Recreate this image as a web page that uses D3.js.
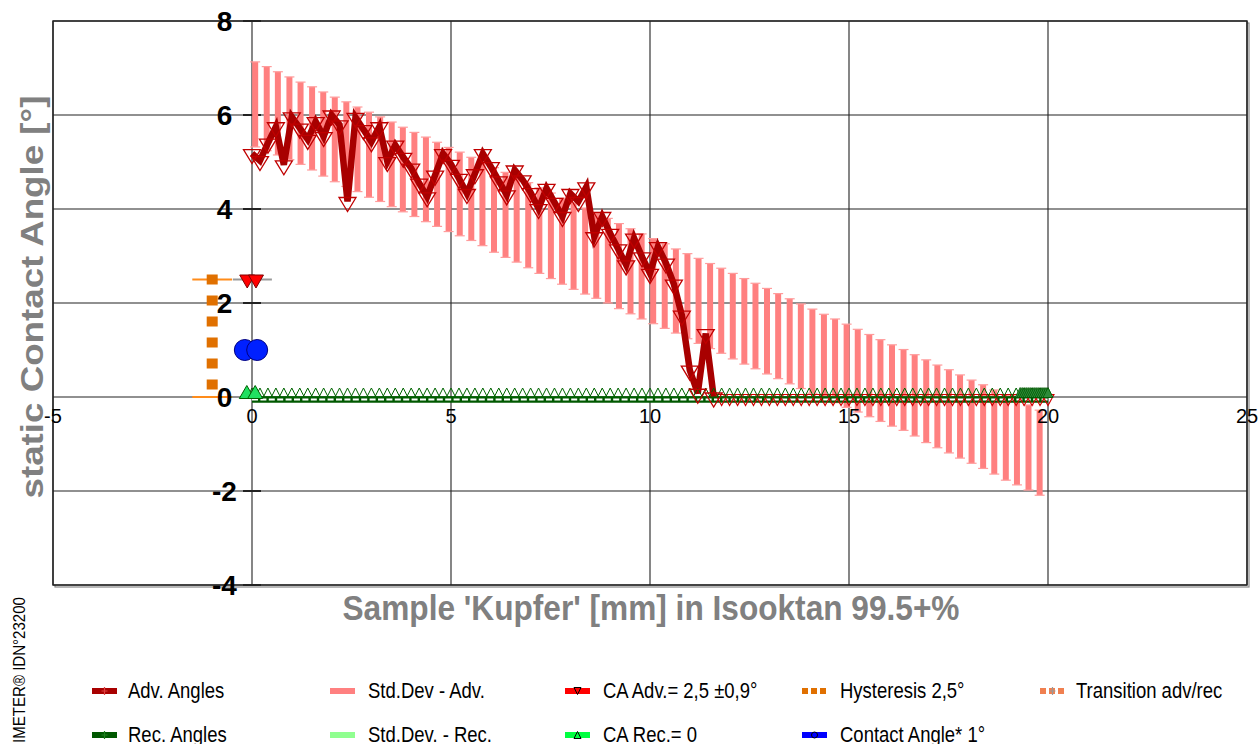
<!DOCTYPE html>
<html><head><meta charset="utf-8">
<script src="https://cdn.jsdelivr.net/npm/d3@7"></script>
<style>
body{margin:0;background:#fff;}
svg{display:block;font-family:Arial,"Liberation Sans",sans-serif;}
</style>
</head><body>
<svg id="c" width="1259" height="744"></svg>
<script>
// ---------- data ----------
const xTicks = [-5, 0, 5, 10, 15, 20, 25];
const yTicks = [-4, -2, 0, 2, 4, 6, 8];

const advX = [0,0.2,0.4,0.6,0.8,1.0,1.2,1.4,1.6,1.8,2.0,2.2,2.4,2.6,2.8,3.0,3.2,3.4,3.6,3.8,4.0,4.2,4.4,4.6,4.8,5.0,5.2,5.4,5.6,5.8,6.0,6.2,6.4,6.6,6.8,7.0,7.2,7.4,7.6,7.8,8.0,8.2,8.4,8.6,8.8,9.0,9.2,9.4,9.6,9.8,10.0,10.2,10.4,10.6,10.8,11.0,11.2,11.4,11.6];
const advY = [5.18,5.03,5.40,5.75,4.94,5.96,5.72,5.48,5.86,5.54,6.00,5.79,4.16,5.95,5.69,5.43,5.75,5.01,5.36,5.10,4.87,4.55,4.26,4.72,5.18,4.95,4.65,4.33,4.75,5.18,4.90,4.60,4.30,4.83,4.62,4.35,4.01,4.44,4.14,3.84,4.33,4.16,4.47,3.41,3.84,3.48,3.15,2.81,3.38,2.98,2.63,3.20,2.85,2.40,1.74,0.57,0.08,1.35,0.00];

const advZeroX = [11.8,12.0,12.2,12.4,12.6,12.8,13.0,13.2,13.4,13.6,13.8,14.0,14.2,14.4,14.6,14.8,15.0,15.2,15.4,15.6,15.8,16.0,16.2,16.4,16.6,16.8,17.0,17.2,17.4,17.6,17.8,18.0,18.2,18.4,18.6,18.8,19.0,19.2,19.4,19.6,19.8,20.0];
const advZeroY = [0,0,0,0,0,0,0,0,0,0,0,0,0,0,0,0,0,0,0,0,0,0,0,0,0,0,0,0,0,0,0,0,0,0,0,0,0,0,0,0,0,0];

const recX = [0,0.2,0.4,0.6,0.8,1.0,1.2,1.4,1.6,1.8,2.0,2.2,2.4,2.6,2.8,3.0,3.2,3.4,3.6,3.8,4.0,4.2,4.4,4.6,4.8,5.0,5.2,5.4,5.6,5.8,6.0,6.2,6.4,6.6,6.8,7.0,7.2,7.4,7.6,7.8,8.0,8.2,8.4,8.6,8.8,9.0,9.2,9.4,9.6,9.8,10.0,10.2,10.4,10.6,10.8,11.0,11.2,11.4,11.6,11.8,12.0,12.2,12.4,12.6,12.8,13.0,13.2,13.4,13.6,13.8,14.0,14.2,14.4,14.6,14.8,15.0,15.2,15.4,15.6,15.8,16.0,16.2,16.4,16.6,16.8,17.0,17.2,17.4,17.6,17.8,18.0,18.2,18.4,18.6,18.8,19.0,19.2,19.4,19.6,19.8,20.0];
const recY = [0,0,0,0,0,0,0,0,0,0,0,0,0,0,0,0,0,0,0,0,0,0,0,0,0,0,0,0,0,0,0,0,0,0,0,0,0,0,0,0,0,0,0,0,0,0,0,0,0,0,0,0,0,0,0,0,0,0,0,0,0,0,0,0,0,0,0,0,0,0,0,0,0,0,0,0,0,0,0,0,0,0,0,0,0,0,0,0,0,0,0,0,0,0,0,0,0,0,0,0,0];

const transX = [19.30,19.35,19.40,19.45,19.50,19.55,19.60,19.65,19.70,19.75,19.80,19.85,19.90,19.95,20.00];
const transY = [0,0,0,0,0,0,0,0,0,0,0,0,0,0,0];

const sdX = [0.08,0.37,0.65,0.94,1.22,1.51,1.79,2.08,2.37,2.65,2.94,3.22,3.51,3.79,4.08,4.37,4.65,4.94,5.22,5.51,5.79,6.08,6.37,6.65,6.94,7.22,7.51,7.79,8.08,8.37,8.65,8.94,9.22,9.51,9.79,10.08,10.37,10.65,10.94,11.22,11.51,11.79,12.08,12.37,12.65,12.94,13.22,13.51,13.79,14.08,14.37,14.65,14.94,15.22,15.51,15.79,16.08,16.37,16.65,16.94,17.22,17.51,17.79,18.08,18.37,18.65,18.94,19.22,19.51,19.79];
const sdHigh = [7.13,7.03,6.92,6.81,6.70,6.60,6.49,6.38,6.28,6.17,6.06,5.96,5.85,5.74,5.63,5.53,5.42,5.31,5.21,5.10,4.99,4.88,4.78,4.67,4.56,4.45,4.34,4.23,4.13,4.02,3.91,3.80,3.69,3.58,3.47,3.37,3.26,3.15,3.05,2.95,2.84,2.74,2.63,2.52,2.42,2.31,2.20,2.09,1.98,1.87,1.76,1.66,1.55,1.44,1.33,1.22,1.11,1.01,0.90,0.79,0.68,0.58,0.47,0.36,0.26,0.15,0.04,-0.06,-0.17,-0.28];
const sdLow = [5.32,5.24,5.15,5.05,4.95,4.83,4.70,4.58,4.48,4.37,4.25,4.16,4.05,3.94,3.84,3.73,3.63,3.52,3.43,3.33,3.22,3.08,2.97,2.87,2.75,2.63,2.52,2.40,2.29,2.19,2.10,2.00,1.88,1.77,1.66,1.56,1.46,1.36,1.24,1.14,1.03,0.93,0.81,0.70,0.60,0.49,0.39,0.28,0.18,0.08,-0.02,-0.12,-0.22,-0.32,-0.42,-0.52,-0.62,-0.71,-0.83,-0.97,-1.08,-1.19,-1.30,-1.41,-1.52,-1.64,-1.77,-1.87,-1.98,-2.09];

const caAdvX = [-0.12, 0.10];
const caAdvY = [2.5, 2.5];
const caAdvErr = [-0.48, 0.5];
const caRecX = [-0.13, 0.08];
const caRecY = [0, 0];
const caX = [-0.18, 0.13];
const caY = [1.0, 1.0];
const hystX = -1.0;
const hystRange = [0, 2.5];
const hystArm = [-1.5, -0.5];

const legendLabels = ["Adv. Angles","Std.Dev - Adv.","CA Adv.= 2,5 ±0,9°","Hysteresis 2,5°","Transition adv/rec",
                      "Rec. Angles","Std.Dev. - Rec.","CA Rec.= 0","Contact Angle* 1°"];
const legendColors = ["#a80000","#ff8080","#ff0000","#e07000","#f08050","#005800","#90ff90","#00ff40","#0000ff"];

const xTitle = "Sample 'Kupfer' [mm] in Isooktan 99.5+%";
const yTitle = "static Contact Angle [°]";
const sideText = "IMETER® IDN°23200";

// ---------- chart ----------
const svg = d3.select("#c");
const x = d3.scaleLinear().domain([-5, 25]).range([53, 1247]);
const y = d3.scaleLinear().domain([-4, 8]).range([585, 21]);

// frame shadow
svg.append("rect").attr("x", x(-5)+2).attr("y", y(8)+2).attr("width", x(25)-x(-5)).attr("height", y(-4)-y(8))
  .attr("fill","none").attr("stroke","#888").attr("stroke-width",1.2);
svg.append("rect").attr("x", x(-5)).attr("y", y(8)).attr("width", x(25)-x(-5)).attr("height", y(-4)-y(8))
  .attr("fill","#fff").attr("stroke","#333").attr("stroke-width",1.5);

// grid
const g = svg.append("g");
g.selectAll("line.gx").data(xTicks).join("line").attr("class","gx")
  .attr("x1", d=>x(d)).attr("x2", d=>x(d)).attr("y1", y(8)).attr("y2", y(-4))
  .attr("stroke","#222").attr("stroke-width",1.1);
g.selectAll("line.gy").data(yTicks).join("line").attr("class","gy")
  .attr("x1", x(-5)).attr("x2", x(25)).attr("y1", d=>y(d)).attr("y2", d=>y(d))
  .attr("stroke","#222").attr("stroke-width",1.1);
g.selectAll("line.ty").data(yTicks).join("line").attr("class","ty")
  .attr("x1", x(0)-9).attr("x2", x(0)+9).attr("y1", d=>y(d)).attr("y2", d=>y(d))
  .attr("stroke","#222").attr("stroke-width",2);

// std dev bars
const sd = svg.append("g");
sdX.forEach((xv,i)=>{
  sd.append("line").attr("x1",x(xv)).attr("x2",x(xv)).attr("y1",y(sdHigh[i])).attr("y2",y(sdLow[i]))
    .attr("stroke","#ff8080").attr("stroke-width",6);
  [sdHigh[i], sdLow[i]].forEach(v=>{
    sd.append("line").attr("x1",x(xv)-5).attr("x2",x(xv)+5).attr("y1",y(v)).attr("y2",y(v))
      .attr("stroke","#ff9c9c").attr("stroke-width",1.2);
  });
});

const triUp = (cx, cy, w, h) => `M${cx-w/2},${cy+h/2}L${cx+w/2},${cy+h/2}L${cx},${cy-h/2}Z`;
const triDown = (cx, cy, w, h) => `M${cx-w/2},${cy-h/2}L${cx+w/2},${cy-h/2}L${cx},${cy+h/2}Z`;

// rec line
svg.append("path").datum(recX.map((d,i)=>[d,recY[i]]))
  .attr("d", d3.line().x(d=>x(d[0])).y(d=>y(d[1])+2.5))
  .attr("fill","none").attr("stroke","#005800").attr("stroke-width",6.5);
svg.append("path").datum(recX.map((d,i)=>[d,recY[i]]))
  .attr("d", d3.line().x(d=>x(d[0])).y(d=>y(d[1])+2.5))
  .attr("fill","none").attr("stroke","#fff").attr("stroke-width",2).attr("stroke-dasharray","6,2.4");

// adv line
svg.append("path").datum(advX.map((d,i)=>[d,advY[i]]))
  .attr("d", d3.line().x(d=>x(d[0])).y(d=>y(d[1])))
  .attr("fill","none").attr("stroke","#a80000").attr("stroke-width",6.5).attr("stroke-linejoin","miter");

// adv zero markers
svg.append("g").selectAll("path").data(advZeroX.map((d,i)=>[d,advZeroY[i]])).join("path")
  .attr("d", d=>triDown(x(d[0]), y(d[1])+3, 12, 11))
  .attr("fill","none").attr("stroke","#d00000").attr("stroke-width",1.1);

// rec markers
svg.append("g").selectAll("path").data(recX.map((d,i)=>[d,recY[i]])).join("path")
  .attr("d", d=>triUp(x(d[0]), y(d[1])-4.5, 9, 9))
  .attr("fill","none").attr("stroke","#006400").attr("stroke-width",1);

// transition cluster
svg.append("g").selectAll("path").data(transX.map((d,i)=>[d,transY[i]])).join("path")
  .attr("d", d=>triUp(x(d[0]), y(d[1])-4.5, 10, 10))
  .attr("fill","#2e8b3a").attr("stroke","#005800").attr("stroke-width",0.8);

// adv markers
svg.append("g").selectAll("path").data(advX.map((d,i)=>[d,advY[i]])).join("path")
  .attr("d", d=>triDown(x(d[0]), y(d[1])+3, 17, 14))
  .attr("fill","none").attr("stroke","#c00000").attr("stroke-width",1.3);

// hysteresis
const hy = svg.append("g");
hystRange.forEach(v=>{
  hy.append("line").attr("x1",x(hystArm[0])).attr("x2",x(hystArm[1])).attr("y1",y(v)).attr("y2",y(v))
    .attr("stroke","#ff8c1a").attr("stroke-width",2);
});
hy.append("line").attr("x1",x(hystX)).attr("x2",x(hystX)).attr("y1",y(hystRange[1])-5).attr("y2",y(hystRange[0]))
  .attr("stroke","#e07000").attr("stroke-width",11).attr("stroke-dasharray","10,11");

// CA adv error bar + markers
svg.append("line").attr("x1",x(caAdvErr[0])).attr("x2",x(caAdvErr[1])).attr("y1",y(2.5)).attr("y2",y(2.5))
  .attr("stroke","#999").attr("stroke-width",2);
svg.append("g").selectAll("path").data(caAdvX.map((d,i)=>[d,caAdvY[i]])).join("path")
  .attr("d", d=>triDown(x(d[0]), y(d[1])+2, 15, 13))
  .attr("fill","#ff0000").attr("stroke","#800000").attr("stroke-width",1);
svg.append("g").selectAll("path").data(caRecX.map((d,i)=>[d,caRecY[i]])).join("path")
  .attr("d", d=>triUp(x(d[0]), y(d[1])-5, 15, 13))
  .attr("fill","#20e060").attr("stroke","#006000").attr("stroke-width",1);
svg.append("g").selectAll("circle").data(caX.map((d,i)=>[d,caY[i]])).join("circle")
  .attr("cx", d=>x(d[0])).attr("cy", d=>y(d[1])).attr("r",10.5)
  .attr("fill","#0020ff").attr("stroke","#000080").attr("stroke-width",1);

// tick labels
svg.append("g").selectAll("text").data(yTicks).join("text")
  .attr("x", 224.5).attr("y", d=>y(d)+10).attr("text-anchor","middle")
  .attr("font-size",28).attr("font-weight","bold").attr("fill","#000").text(d=>d);
svg.append("g").selectAll("text").data(xTicks).join("text")
  .attr("x", d=>x(d)).attr("y", y(0)+26).attr("text-anchor","middle")
  .attr("font-size",20).attr("fill","#000").text(d=>d);

// axis titles
svg.append("text").attr("transform",`translate(651,620) scale(1,1.12)`).attr("text-anchor","middle")
  .attr("font-size",31).attr("font-weight","bold").attr("fill","#808080")
  .attr("textLength",617).attr("lengthAdjust","spacingAndGlyphs").text(xTitle);
svg.append("text").attr("transform",`translate(43,297) rotate(-90)`).attr("text-anchor","middle")
  .attr("font-size",31).attr("font-weight","bold").attr("fill","#808080")
  .attr("textLength",403).attr("lengthAdjust","spacingAndGlyphs").text(yTitle);
svg.append("text").attr("transform",`translate(25,597) rotate(-90)`).attr("text-anchor","end")
  .attr("font-size",17).attr("fill","#000").attr("textLength",146).attr("lengthAdjust","spacingAndGlyphs").text(sideText);

// legend
const colX = [92, 330, 565, 802, 1040];
const rowY = [691, 735];
const leg = svg.append("g");
legendLabels.forEach((lab,i)=>{
  const r = i < 5 ? 0 : 1;
  const c = i < 5 ? i : i - 5;
  const lx = colX[c], ly = rowY[r];
  const col = legendColors[i];
  if (i === 3 || i === 4) {
    leg.append("line").attr("x1",lx).attr("x2",lx+24).attr("y1",ly).attr("y2",ly)
      .attr("stroke",col).attr("stroke-width",6).attr("stroke-dasharray","6,3");
  } else {
    leg.append("line").attr("x1",lx).attr("x2",lx+25).attr("y1",ly).attr("y2",ly)
      .attr("stroke",col).attr("stroke-width",6);
  }
  const cx = lx+12.5;
  if (i===0 || i===5 || i===4) {
    const mc = i===0 ? "#e04040" : (i===5 ? "#208020" : "#999");
    leg.append("path").attr("d",`M${cx-3},${ly}H${cx+3}M${cx},${ly-4}V${ly+4}`).attr("stroke",mc).attr("stroke-width",1.2);
  } else if (i===2) {
    leg.append("path").attr("d",triDown(cx,ly,7,7)).attr("fill","none").attr("stroke","#000").attr("stroke-width",1);
  } else if (i===7) {
    leg.append("path").attr("d",triUp(cx,ly,7,7)).attr("fill","none").attr("stroke","#000").attr("stroke-width",1);
  } else if (i===8) {
    leg.append("circle").attr("cx",cx).attr("cy",ly).attr("r",3).attr("fill","none").attr("stroke","#000").attr("stroke-width",1);
  }
  const tx = [128, 368, 603, 840, 1076][c];
  leg.append("text").attr("transform",`translate(${tx},${ly+7}) scale(1,1.15)`)
    .attr("font-size",18.5).attr("fill","#000").text(lab);
});
</script>
</body></html>
